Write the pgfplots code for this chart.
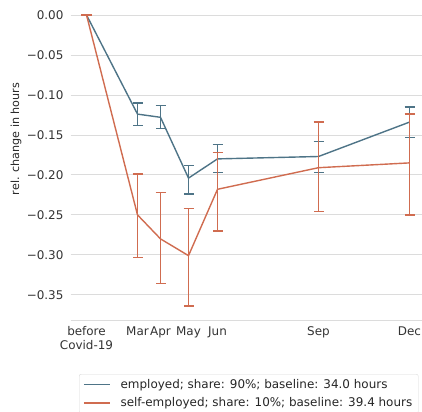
\documentclass[border=0pt]{standalone}
\usepackage{pgfplots}
\pgfplotsset{compat=1.18}
\usepackage{fontspec}
\setmainfont{DejaVu Sans}
\definecolor{cblue}{HTML}{4E7487}
\definecolor{corange}{HTML}{D06C50}
\definecolor{gridc}{HTML}{DCDCDC}
\pgfplotsset{every error bar/.style={line width=1.5bp}}
\begin{document}
\begin{tikzpicture}
\useasboundingbox (0,0) rectangle (422bp,412bp);
\begin{axis}[
  at={(70.6bp,91.4bp)}, anchor=south west,
  scale only axis,
  width=354.5bp, height=320.2bp,
  xmin=70.6, xmax=425.1,
  ymin=-0.3822, ymax=0.0182,
  axis x line*=bottom, axis y line*=left,
  x axis line style={-, draw=gridc, line width=0.8bp},
  y axis line style={draw=none},
  major tick length=0pt,
  ymajorgrids, grid style={gridc, line width=0.8bp},
  ytick={0,-0.05,-0.1,-0.15,-0.2,-0.25,-0.3,-0.35},
  yticklabels={0.00,−0.05,−0.10,−0.15,−0.20,−0.25,−0.30,−0.35},
  xtick={86.5,137.5,160.5,188.5,217.5,318.5,409.5},
  xticklabels={{before\\Covid-19},Mar,Apr,May,Jun,Sep,Dec},
  yticklabel style={font=\fontsize{12}{14}\selectfont, color=black!80, inner sep=0pt, anchor=east, xshift=-7bp},
  xticklabel style={font=\fontsize{12}{14}\selectfont, color=black!80, inner sep=0pt, anchor=north, yshift=-6bp, align=center},
  ylabel={rel. change in hours},
  every axis y label/.style={at={(rel axis cs:0,0.567)}, xshift=-54.6bp, rotate=90, anchor=center, color=black!85, font=\fontsize{11.2}{13}\selectfont},
  legend style={at={(axis description cs:0.0237,-0.1668)}, anchor=north west,
    draw=black!15, rounded corners=2bp, font=\fontsize{12}{14}\selectfont, text=black!85,
    inner xsep=4bp, inner ysep=3bp, row sep=4bp,
    /tikz/every odd column/.append style={column sep=8bp}},
  legend cell align=left,
  legend image code/.code={\draw[#1, line width=1.4bp] (0bp,0bp) -- (26bp,0bp);},
]
\addplot[cblue, line width=1.4bp, no marks,
  error bars/.cd, y dir=both, y explicit, error mark options={rotate=90, mark size=5bp, line width=1.3bp, cblue}]
coordinates {
(86.5,0) += (0,0) -= (0,0)
(137.5,-0.124) += (0,0.014) -= (0,0.014)
(160.5,-0.128) += (0,0.015) -= (0,0.014)
(188.5,-0.204) += (0,0.016) -= (0,0.020)
(217.5,-0.180) += (0,0.018) -= (0,0.017)
(318.5,-0.177) += (0,0.019) -= (0,0.020)
(409.5,-0.134) += (0,0.019) -= (0,0.019)
};
\addlegendentry{employed; share: 90\%; baseline: 34.0 hours}
\addplot[corange, line width=1.4bp, no marks,
  error bars/.cd, y dir=both, y explicit, error mark options={rotate=90, mark size=5bp, line width=1.3bp, corange}]
coordinates {
(86.5,0) += (0,0) -= (0,0)
(137.5,-0.250) += (0,0.051) -= (0,0.053)
(160.5,-0.280) += (0,0.058) -= (0,0.056)
(188.5,-0.301) += (0,0.059) -= (0,0.063)
(217.5,-0.218) += (0,0.046) -= (0,0.052)
(318.5,-0.191) += (0,0.057) -= (0,0.055)
(409.5,-0.185) += (0,0.061) -= (0,0.065)
};
\addlegendentry{self-employed; share: 10\%; baseline: 39.4 hours}
\end{axis}
\end{tikzpicture}
\end{document}
